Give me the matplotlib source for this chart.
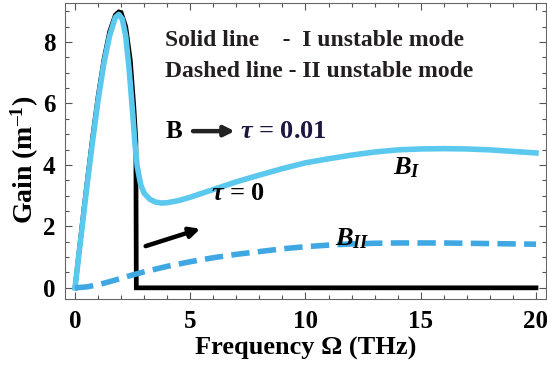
import matplotlib
matplotlib.use('Agg')
import matplotlib.pyplot as plt
from matplotlib.ticker import MultipleLocator

plt.rcParams['font.family'] = ['Liberation Serif', 'DejaVu Serif']
plt.rcParams['mathtext.fontset'] = 'custom'
plt.rcParams['mathtext.rm'] = 'Liberation Serif:bold'
plt.rcParams['mathtext.it'] = 'Liberation Serif:bold:italic'
plt.rcParams['mathtext.bf'] = 'Liberation Serif:bold'

# tau = 0, black solid
om_black = [0, 0.25, 0.5, 0.75, 1.0, 1.25, 1.5, 1.75, 1.9, 2.0, 2.2, 2.4, 2.55, 2.64, 2.66, 20]
g_black = [0, 1.67, 3.29, 4.82, 6.22, 7.41, 8.33, 8.88, 8.98, 8.96, 8.5, 7.4, 5.9, 4.8, 0, 0]

# tau = 0.01, B_I (solid cyan)
om_b1 = [0, 0.25, 0.5, 0.75, 1.0, 1.25, 1.5, 1.75, 1.9, 2.05, 2.2, 2.35, 2.5, 2.6, 2.7,
         2.85, 3.0, 3.25, 3.5, 3.75, 4.0, 4.5, 5, 6, 7, 8, 9, 10, 11, 12, 13, 14, 15, 16,
         17, 18, 19, 20]
g_b1 = [0, 1.6, 3.2, 4.7, 6.1, 7.3, 8.2, 8.8, 8.9, 8.75, 8.2, 7.1, 5.7, 4.7, 3.95,
        3.35, 3.08, 2.88, 2.79, 2.76, 2.77, 2.84, 2.95, 3.2, 3.45, 3.67, 3.88, 4.07, 4.2,
        4.32, 4.42, 4.49, 4.52, 4.53, 4.52, 4.49, 4.44, 4.39]

# B_II (dashed)
om_b2 = [0, 0.5, 1, 1.5, 2, 2.5, 3, 4, 5, 6, 7, 8, 9, 10, 11, 12, 13, 14, 15, 16, 17, 18, 19, 20]
g_b2 = [0, 0.03, 0.1, 0.2, 0.31, 0.42, 0.52, 0.7, 0.85, 0.98, 1.09, 1.18, 1.27, 1.34, 1.39,
        1.43, 1.45, 1.46, 1.46, 1.46, 1.45, 1.44, 1.43, 1.42]

fig = plt.figure(figsize=(5.47, 3.77), dpi=100)
ax = fig.add_axes([0.119, 0.208, 0.879, 0.784])

ax.plot(om_black, g_black, color='black', lw=3.4, solid_joinstyle='miter', zorder=2)
ax.plot(om_b1, g_b1, color='#5bc8ee', lw=4.0, zorder=3)
ax.plot(om_b2, g_b2, color='#3fa8e2', lw=4.0, dashes=(3.3, 1.5), zorder=3)

ax.set_xlim(-0.43, 20.43)
ax.set_ylim(-0.35, 9.27)
ax.xaxis.set_major_locator(MultipleLocator(5))
ax.xaxis.set_minor_locator(MultipleLocator(1))
ax.yaxis.set_major_locator(MultipleLocator(2))
ax.yaxis.set_minor_locator(MultipleLocator(0.5))
ax.tick_params(which='both', direction='in', top=True, right=True, color='#555555', width=0.8,
               labelsize=18)
ax.tick_params(axis='x', pad=8)
ax.tick_params(axis='y', pad=7)
ax.tick_params(which='major', length=5)
ax.tick_params(which='minor', length=3)
for lab in ax.get_xticklabels() + ax.get_yticklabels():
    lab.set_fontweight('bold')
for s in ax.spines.values():
    s.set_color('#666666')
    s.set_linewidth(0.8)

ax.set_xlabel('Frequency \u03a9 (THz)', fontsize=19, fontweight='bold', labelpad=3)
ax.set_ylabel('Gain (m$^{\\mathbf{\u2013 1}}$)', fontsize=20, fontweight='bold')
ax.yaxis.set_label_coords(-0.05, 0.47)

ax.text(3.9, 8.05, 'Solid line    -  I unstable mode', fontsize=17, fontweight='bold',
        color='#231f20', va='center')
ax.text(3.9, 7.05, 'Dashed line - II unstable mode', fontsize=17, fontweight='bold',
        color='#231f20', va='center')

ax.text(3.95, 5.1, 'B', fontsize=18, fontweight='bold', va='center')
ax.annotate('', xy=(7.05, 5.1), xytext=(5.0, 5.1),
            arrowprops=dict(arrowstyle='-|>', color='#222222', lw=3.2, mutation_scale=15))
ax.text(7.15, 5.1, '$\\tau$ = 0.01', fontsize=19, fontweight='bold', color='#1c1640',
        va='center')

ax.annotate('', xy=(5.55, 1.95), xytext=(2.95, 1.33),
            arrowprops=dict(arrowstyle='-|>', color='black', lw=3.2, mutation_scale=15))
ax.text(5.9, 3.08, '$\\tau$ = 0', fontsize=19, fontweight='bold', va='center')

ax.text(13.8, 3.9, '$B_I$', fontsize=19, va='center')
ax.text(11.3, 1.6, '$B_{II}$', fontsize=19, va='center')

fig.savefig('out.png', dpi=100)
